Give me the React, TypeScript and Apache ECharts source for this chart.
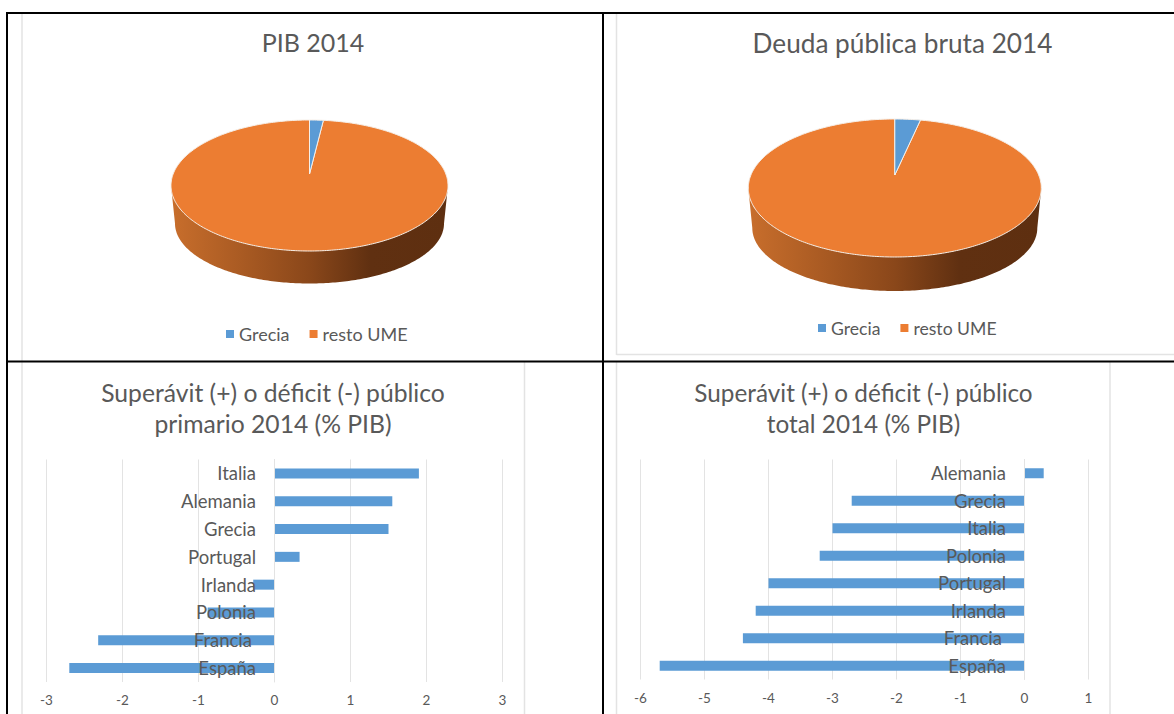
import React, { useEffect, useRef } from "react";
import * as echarts from "echarts";

const pieNames = ["Grecia", "resto UME"];
const gdpShares = [1.6, 98.4];
const debtShares = [2.8, 97.2];

const primaryCountries = ["España", "Francia", "Polonia", "Irlanda", "Portugal", "Grecia", "Alemania", "Italia"];
const primaryBalance = [-2.7, -2.32, -0.88, -0.28, 0.33, 1.5, 1.55, 1.9];
const totalCountries = ["España", "Francia", "Irlanda", "Portugal", "Polonia", "Italia", "Grecia", "Alemania"];
const totalBalance = [-5.7, -4.4, -4.2, -4.0, -3.2, -3.0, -2.7, 0.3];

const BLUE = "#5b9bd5";
const ORANGE = "#ec7d32";
const TEXT = "#595959";
const GRID = "#e3e3e3";
const FONT = "Lato";

type Geo = { cx: number; cy: number; rx: number; ry: number; apexY: number; rx2: number; ry2: number; cy2: number };
const gdpGeo: Geo = { cx: 309.5, cy: 185.5, rx: 138.5, ry: 65.5, apexY: 174, rx2: 134.5, ry2: 60, cy2: 223.5 };
const debtGeo: Geo = { cx: 894.8, cy: 188, rx: 146.5, ry: 69, apexY: 175, rx2: 142.5, ry2: 63, cy2: 228 };

function pieSeries(name: string, idx: number, shares: number[], g: Geo, color: string) {
  const total = shares.reduce((a, b) => a + b, 0);
  const before = shares.slice(0, idx).reduce((a, b) => a + b, 0);
  return {
    type: "custom",
    name,
    coordinateSystem: "none",
    silent: true,
    z: idx === 0 ? 4 : 3,
    itemStyle: { color },
    data: [[shares[idx]]],
    renderItem: (_p: any, api: any) => {
      const v = api.value(0) as number;
      const t0 = (before / total) * Math.PI * 2;
      const t1 = t0 + (v / total) * Math.PI * 2;
      const n = Math.max(8, Math.round(((t1 - t0) / (Math.PI * 2)) * 360));
      const pts: number[][] = [[g.cx, g.apexY]];
      for (let i = 0; i <= n; i++) {
        const t = t0 + ((t1 - t0) * i) / n;
        pts.push([g.cx + g.rx * Math.sin(t), g.cy - g.ry * Math.cos(t)]);
      }
      const children: any[] = [];
      if (idx === 1) {
        const side: number[][] = [[g.cx + g.rx, g.cy]];
        for (let i = 0; i <= 180; i++) {
          const a = (i / 180) * Math.PI;
          side.push([g.cx + g.rx2 * Math.cos(a), g.cy2 + g.ry2 * Math.sin(a)]);
        }
        side.push([g.cx - g.rx, g.cy]);
        children.push({
          type: "polygon",
          shape: { points: side },
          style: {
            fill: new echarts.graphic.LinearGradient(0, 0, 1, 0, [
              { offset: 0, color: "#c86e2c" },
              { offset: 0.25, color: "#aa5b23" },
              { offset: 0.5, color: "#8a471a" },
              { offset: 0.72, color: "#603011" },
              { offset: 1, color: "#5e2f10" },
            ]),
          },
        });
      }
      children.push({
        type: "polygon",
        shape: { points: pts },
        style: { fill: color, stroke: "#f6efe8", lineWidth: 1 },
      });
      return { type: "group", children };
    },
  };
}

function App() {
  const ref = useRef<HTMLDivElement>(null);
  useEffect(() => {
    document.body.style.margin = "0";
    document.body.style.overflow = "hidden";
    const chart = echarts.init(ref.current!, undefined, { renderer: "svg" });
    const titleStyle = (fontSize: number) => ({
      color: TEXT,
      fontFamily: FONT,
      fontSize,
      fontWeight: "normal" as const,
      lineHeight: 31,
    });
    const catAxis = (gridIndex: number, data: string[], zeroOffset: number) => ({
      type: "category",
      gridIndex,
      data,
      z: 6,
      position: "left",
      offset: -zeroOffset,
      axisLine: { show: true, onZero: false, lineStyle: { color: GRID, width: 1 } },
      axisTick: { show: false },
      splitLine: { show: false },
      axisLabel: {
        margin: 18.5,
        color: TEXT,
        fontFamily: FONT,
        fontSize: 18.5,
        formatter: (v: string) => (v === "Francia" ? `{f|${v}}` : v),
        rich: { f: { color: TEXT, fontFamily: FONT, fontSize: 18.5, padding: [0, 4, 0, 0] } },
      },
    });
    const valAxis = (gridIndex: number, min: number, max: number) => ({
      type: "value",
      gridIndex,
      min,
      max,
      interval: 1,
      axisLine: { show: false },
      axisTick: { show: false },
      splitLine: { show: true, lineStyle: { color: GRID, width: 1 } },
      axisLabel: { margin: 11, color: TEXT, fontFamily: FONT, fontSize: 13.5 },
    });
    const rule = (x1: number, y1: number, x2: number, y2: number, stroke: string, lineWidth: number) => ({
      type: "line",
      silent: true,
      z: 10,
      shape: { x1, y1, x2, y2 },
      style: { stroke, lineWidth },
    });
    const legendBase = {
      itemWidth: 8,
      itemHeight: 8,
      itemGap: 20,
      selectedMode: false,
      icon: "rect",
      data: pieNames,
    };
    chart.setOption({
      animation: false,
      backgroundColor: "#fff",
      title: [
        { text: "PIB 2014", left: 308, top: 21, textAlign: "center", textStyle: titleStyle(25) },
        { text: "Deuda pública bruta 2014", left: 897.5, top: 22, textAlign: "center", textStyle: titleStyle(26.2) },
        { text: "Superávit (+) o déficit (-) público\nprimario 2014 (% PIB)", left: 268, top: 372, textAlign: "center", textStyle: titleStyle(24.7) },
        { text: "Superávit (+) o déficit (-) público\ntotal 2014 (% PIB)", left: 858.5, top: 372, textAlign: "center", textStyle: titleStyle(24.3) },
      ],
      legend: [
        { ...legendBase, left: 221, top: 320, textStyle: { color: TEXT, fontFamily: FONT, fontSize: 18 } },
        { ...legendBase, left: 813, top: 314, textStyle: { color: TEXT, fontFamily: FONT, fontSize: 17.6 } },
      ],
      grid: [
        { left: 46.5, top: 459.5, width: 456, height: 222.5, outerBoundsMode: "none" },
        { left: 640.5, top: 459.5, width: 448, height: 220, outerBoundsMode: "none" },
      ],
      xAxis: [valAxis(0, -3, 3), valAxis(1, -6, 1)],
      yAxis: [catAxis(0, primaryCountries, 228), catAxis(1, totalCountries, 384)],
      series: [
        pieSeries(pieNames[0], 0, gdpShares, gdpGeo, BLUE),
        pieSeries(pieNames[1], 1, gdpShares, gdpGeo, ORANGE),
        pieSeries(pieNames[0], 0, debtShares, debtGeo, BLUE),
        pieSeries(pieNames[1], 1, debtShares, debtGeo, ORANGE),
        { type: "bar", xAxisIndex: 0, yAxisIndex: 0, data: primaryBalance, barWidth: 10, itemStyle: { color: BLUE }, silent: true },
        { type: "bar", xAxisIndex: 1, yAxisIndex: 1, data: totalBalance, barWidth: 10, itemStyle: { color: BLUE }, silent: true },
      ],
      graphic: [
        rule(22, 14, 22, 361, GRID, 1.5),
        rule(22, 361, 22, 714, GRID, 1.5),
        rule(524.5, 361, 524.5, 714, GRID, 1.5),
        rule(616.5, 14, 616.5, 355, GRID, 1.5),
        rule(616.5, 354.5, 1174, 354.5, GRID, 1.5),
        rule(616.5, 361, 616.5, 714, GRID, 1.5),
        rule(1110, 361, 1110, 714, GRID, 1.5),
        rule(6, 13, 1174, 13, "#000", 2),
        rule(6, 361.5, 1174, 361.5, "#000", 2),
        rule(7, 12, 7, 714, "#000", 2),
        rule(603, 12, 603, 714, "#000", 2),
      ],
    });
    return () => chart.dispose();
  }, []);
  return <div ref={ref} style={{ position: "absolute", left: 0, top: 0, width: 1174, height: 714 }} />;
}

export default App;
